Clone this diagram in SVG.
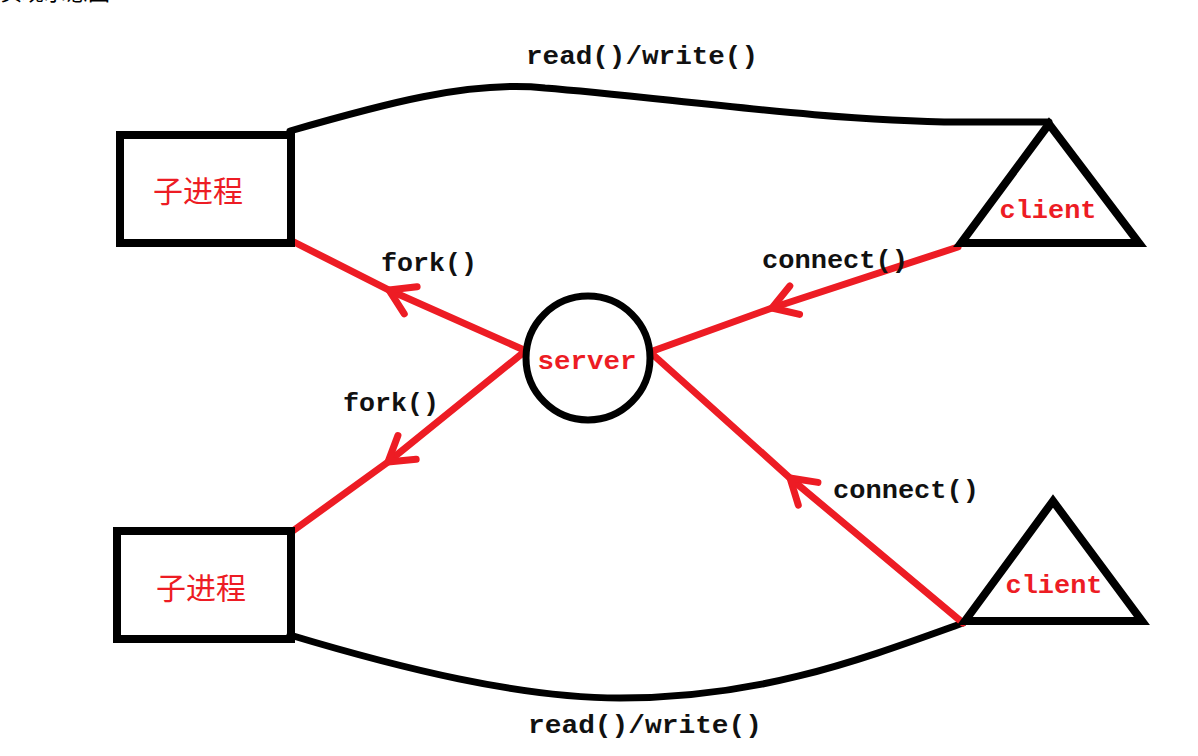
<svg xmlns="http://www.w3.org/2000/svg" width="1198" height="756" viewBox="0 0 1198 756">
<defs>
<style>
.blk{fill:none;stroke:#000;stroke-width:8;stroke-linejoin:miter}
.curve{fill:none;stroke:#000;stroke-width:7;stroke-linecap:round}
.red{fill:none;stroke:#ed1c24;stroke-width:7;stroke-linecap:round;marker-mid:url(#chev)}
.lbl{font-family:"Liberation Mono","DejaVu Sans Mono",monospace;font-size:26px;font-weight:bold;fill:#111;dominant-baseline:central;text-anchor:middle}
.rl{font-family:"Liberation Mono","DejaVu Sans Mono",monospace;font-size:25px;font-weight:bold;fill:#ed1c24;dominant-baseline:central;text-anchor:middle}
.cn{font-family:"Noto Sans CJK SC","Noto Sans CJK JP",sans-serif;font-size:30px;fill:#ed1c24;dominant-baseline:central;text-anchor:middle}
</style>
<marker id="chev" markerUnits="userSpaceOnUse" viewBox="-30 -20 40 40" markerWidth="40" markerHeight="40" refX="0" refY="0" orient="auto" overflow="visible">
<path d="M-24,-15 L0,0 L-24,15" fill="none" stroke="#ed1c24" stroke-width="7" stroke-linecap="round" stroke-linejoin="round"/>
</marker>
</defs>
<rect width="1198" height="756" fill="#fff"/>
<text x="0" y="0" font-family="Noto Sans CJK SC,sans-serif" font-size="22" fill="#000">实现示意图</text>
<g id="connectors">
<path class="curve" d="M290,131 C380,105 470,80 545,88 C660,97 820,121 960,122 L1049,122"/>
<path class="curve" d="M290,635 C400,668 520,698 620,698 C760,698 860,660 963,623"/>
<path class="red" d="M524,350 L389,290 L290,240"/>
<path class="red" d="M524,352 L388,462 L290,533"/>
<path class="red" d="M958,247 L772,308 L650,352"/>
<path class="red" d="M963,623 L790,478 L650,352"/>
<text class="lbl" x="642" y="57" textLength="232" lengthAdjust="spacingAndGlyphs">read()/write()</text>
<text class="lbl" x="429" y="264" textLength="96" lengthAdjust="spacingAndGlyphs">fork()</text>
<text class="lbl" x="391" y="404" textLength="96" lengthAdjust="spacingAndGlyphs">fork()</text>
<text class="lbl" x="835" y="261" textLength="146" lengthAdjust="spacingAndGlyphs">connect()</text>
<text class="lbl" x="906" y="491" textLength="146" lengthAdjust="spacingAndGlyphs">connect()</text>
<text class="lbl" x="645" y="726" textLength="234" lengthAdjust="spacingAndGlyphs">read()/write()</text>
</g>
<g id="child1">
<rect class="blk" x="120" y="135" width="171" height="108"/>
<text class="cn" x="198" y="189">子进程</text>
</g>
<g id="child2">
<rect class="blk" x="117" y="531" width="174" height="108"/>
<text class="cn" x="201" y="586">子进程</text>
</g>
<g id="server">
<ellipse cx="588" cy="358" rx="62" ry="62" fill="#fff" stroke="#000" stroke-width="7"/>
<text class="rl" x="587" y="362" textLength="99" lengthAdjust="spacingAndGlyphs">server</text>
</g>
<g id="client1">
<polygon class="blk" points="1049,124 961,243 1139,243" fill="#fff"/>
<text class="rl" x="1048" y="211" textLength="97" lengthAdjust="spacingAndGlyphs">client</text>
</g>
<g id="client2">
<polygon class="blk" points="1053,501 965,621 1142,621" fill="#fff"/>
<text class="rl" x="1054" y="586" textLength="97" lengthAdjust="spacingAndGlyphs">client</text>
</g>
</svg>
